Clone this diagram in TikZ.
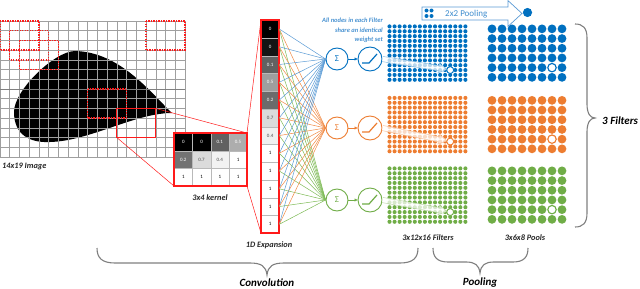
\documentclass[tikz,border=0pt]{standalone}
\usepackage{fontspec}
\setmainfont{Carlito}
\usetikzlibrary{calc,arrows.meta}
\definecolor{cB}{HTML}{0070C0}
\definecolor{cO}{HTML}{ED7D31}
\definecolor{cG}{HTML}{70AD47}
\definecolor{lB}{HTML}{5B9BD5}
\definecolor{lO}{HTML}{F08A45}
\definecolor{lG}{HTML}{7DBA55}
\definecolor{brc}{HTML}{7F7F7F}
\definecolor{winred}{HTML}{FF1A1A}
\newcommand\pointerarrow[3]{%
  \path let \p0=(#1) in coordinate (pa) at (\p0);
  \coordinate (pb) at ($(#2)!3.6pt!(#1)$);
  \coordinate (pm) at ($(pb)!8pt!(pa)$);
  \fill[white,opacity=0.72] ($(pa)!2.6pt!90:(pb)$) -- ($(pm)!2.6pt!-90:(pa)$) -- ($(pm)!4.8pt!-90:(pa)$) -- (pb) -- ($(pm)!4.8pt!90:(pa)$) -- ($(pm)!2.6pt!90:(pa)$) -- ($(pa)!2.6pt!-90:(pb)$) -- cycle;
  \draw[#3!45,line width=0.5] ($(pa)!2.6pt!90:(pb)$) -- ($(pm)!2.6pt!-90:(pa)$) -- ($(pm)!4.8pt!-90:(pa)$) -- (pb) -- ($(pm)!4.8pt!90:(pa)$) -- ($(pm)!2.6pt!90:(pa)$) -- ($(pa)!2.6pt!-90:(pb)$);
}
\begin{document}
\begin{tikzpicture}[x=1pt,y=-1pt,
  gridline/.style={draw=gray!75,line width=0.5},
  dotwin/.style={draw=winred,line width=1.3,dash pattern=on 1.4pt off 1.1pt},
  solidwin/.style={draw=winred,line width=1.3},
  kcell/.style={draw=gray!55,line width=0.3,minimum width=18.25pt,minimum height=17.67pt,inner sep=0pt,anchor=north west,font=\fontsize{5}{5}\selectfont},
  ecell/.style={draw=gray!55,line width=0.3,minimum width=18pt,minimum height=17.75pt,inner sep=0pt,anchor=north west,font=\fontsize{5}{5}\selectfont},
  sumnode/.style={circle,draw=#1,text=#1,fill=white,line width=0.9,minimum size=22pt,inner sep=0pt,font=\fontsize{9}{9}\selectfont},
  relunode/.style={circle,draw=#1,fill=white,line width=0.9,minimum size=24pt,inner sep=0pt},
  openf/.style={circle,draw=#1,fill=white,line width=0.8,minimum size=6.8pt,inner sep=0pt},
  openp/.style={circle,draw=#1,fill=white,line width=1.1,minimum size=8.4pt,inner sep=0pt},
  lab/.style={font=\fontsize{8.3}{9}\selectfont\bfseries\itshape,inner sep=0pt,text=black!85},
  biglab/.style={font=\fontsize{11}{12}\selectfont\bfseries\itshape,inner sep=0pt},
  note/.style={font=\fontsize{6.5}{7}\selectfont\bfseries\itshape,inner sep=0pt,text=lB!80!cB,anchor=base east},
  brace/.style={draw=brc,line width=1.1},
]
\useasboundingbox (0,0) rectangle (640,289);

% ---------- image with blob and grid
\fill[black] (172,113) .. controls (150,92) and (120,52) .. (75,51)
  .. controls (55,51) and (14,90) .. (14,112)
  .. controls (14,135) and (30,143) .. (50,142)
  .. controls (90,141) and (135,113) .. (172,113) -- cycle;
\foreach \i in {0,...,19} \draw[gridline] ({\i*9.737},21) -- ({\i*9.737},157);
\foreach \j in {0,...,14} \draw[gridline] (0,{21+\j*9.714}) -- (185,{21+\j*9.714});
\draw[draw=gray,line width=0.8] (0,{21+7*9.714}) -- (185,{21+7*9.714});
\foreach \c/\r in {0/0,1/1,2/2,15/0,9/7}
  \draw[dotwin] ({\c*9.737},{21+\r*9.714}) rectangle ++(38.95,29.14);
\coordinate (wtl) at (116.84,108.43);
\coordinate (wbr) at (155.79,137.57);
\coordinate (wtr) at (155.79,108.43);
\coordinate (wbl) at (116.84,137.57);
\draw[solidwin] (wtl) rectangle (wbr);
\node[lab,anchor=base west] (imglab) at (2,168) {14x19 Image};

% ---------- kernel
\foreach \v/\f/\t [count=\k from 0] in {0/black/white,0/black/white,0.1/black!62/white,0.5/black!32/white,
  0.2/black!55/white,0.7/black!14/black!70,0.4/black!5/black!70,1/white/black,
  1/white/black,1/white/black,1/white/black,1/white/black}{
  \pgfmathtruncatemacro\col{mod(\k,4)}
  \pgfmathtruncatemacro\row{int(\k/4)}
  \node[kcell,fill=\f,text=\t] (k\k) at ({174+\col*18.25},{133+\row*17.67}) {\v};
}
\coordinate (ktl) at (174,133);
\coordinate (ktr) at (247,133);
\coordinate (kbr) at (247,186);
\coordinate (kbl) at (174,186);
\draw[solidwin] (ktl) rectangle (kbr);
\draw[winred,line width=0.5] (wtr) -- (ktr);
\draw[winred,line width=0.5] (wbl) -- (kbl);
\node[lab,anchor=base] (klab) at (210,200) {3x4 kernel};

% ---------- 1D expansion
\foreach \v/\f/\t [count=\k from 0] in {0/black/white,0/black!92/white,0.1/black!62/white,0.5/black!38/white,
  0.2/black!58/white,0.7/black!14/black!70,0.4/black!6/black!70,1/white/black,
  1/white/black,1/white/black,1/white/black,1/white/black}{
  \node[ecell,fill=\f,text=\t] (e\k) at (261,{20+\k*17.75}) {\v};
}
\coordinate (etl) at (261,20);
\coordinate (ebr) at (279,233);
\coordinate (ebl) at (261,233);
\draw[solidwin] (etl) rectangle (ebr);
\draw[winred,line width=0.5] (ktr) -- (etl);
\draw[winred,line width=0.5] (kbr) -- (ebl);
\node[lab,anchor=base] (elab) at (269,247) {1D Expansion};

% ---------- sum and relu nodes
\node[sumnode=cB] (sB) at (337,59) {Σ};
\node[sumnode=cO] (sO) at (337,128) {Σ};
\node[sumnode=cG] (sG) at (337,200) {Σ};
\foreach \k in {0,...,11}{
  \draw[lB,line width=0.5] (e\k.east) -- (sB.west);
  \draw[lO,line width=0.5] (e\k.east) -- (sO.west);
  \draw[lG,line width=0.5] (e\k.east) -- (sG.west);
}
\node[relunode=cB] (rB) at (370,59) {};
\node[relunode=cO] (rO) at (370,128) {};
\node[relunode=cG] (rG) at (370,200) {};
\foreach \r/\c/\s in {rB/cB/sB,rO/cO/sO,rG/cG/sG}{
  \draw[\c,line width=1.2] ($(\r)+(-8,4)$) -- ++(7,0) -- ++(8,-9);
  \draw[\c,line width=0.6,-{Triangle[length=3pt,width=3pt]}] (\s) -- (\r);
}

% ---------- filters and pools
\foreach \c/\y in {cB/24,cO/95.5,cG/166}{
  \foreach \i in {0,...,15}{
    \foreach \j in {0,...,11}{
      \fill[\c] ({389.5+\i*5.06},{\y+2.42+\j*4.85}) circle (2.05pt);
    }
  }
  \foreach \i in {0,...,7}{
    \foreach \j in {0,...,5}{
      \fill[\c] ({492+\i*10},{\y+4.85+\j*9.7}) circle (4.4pt);
    }
  }
}
\pgfmathsetmacro\fx{389.5+12*5.06}
\node[openf=cB] (fB) at (\fx,{24+2.42+9*4.85}) {};
\node[openf=cO] (fO) at (\fx,{95.5+2.42+9*4.85}) {};
\node[openf=cG] (fG) at (\fx,{166+2.42+9*4.85}) {};
\node[openp=cB] (pB) at (552,{24+4.85+4*9.7}) {};
\node[openp=cO] (pO) at (552,{95.5+4.85+4*9.7}) {};
\node[openp=cG] (pG) at (552,{166+4.85+4*9.7}) {};
\pointerarrow{rB.east}{fB}{cB}
\pointerarrow{rO.east}{fO}{cO}
\pointerarrow{rG.east}{fG}{cG}
\node[openf=cB] at (fB) {};
\node[openf=cO] at (fO) {};
\node[openf=cG] at (fG) {};

% ---------- note
\node[note] (n1) at (383,23) {All nodes in each Filter};
\node[note] (n2) at (383,32) {share an identical};
\node[note] (n3) at (383,41.5) {weight set};

% ---------- pooling arrow
\draw[lB,fill=white,line width=0.7] (422,7) -- (508,7) -- (508,0.6) -- (522,13.5) -- (508,26.4) -- (508,20) -- (422,20) -- cycle;
\foreach \dx/\dy in {0/0,5/0,0/5.5,5/5.5} \fill[cB] ({426.5+\dx},{10.5+\dy}) circle (2pt);
\node[font=\fontsize{9}{9}\selectfont,text=lB!70!cB,inner sep=0pt,anchor=base west] (plab) at (445,16.5) {2x2 Pooling};
\fill[cB] (527.5,12.5) circle (4.6pt);

% ---------- labels under grids
\node[lab,anchor=base] (flab) at (428,240) {3x12x16 Filters};
\node[lab,anchor=base] (plab2) at (525,240) {3x6x8 Pools};

% ---------- braces
\draw[brace] (97,248) .. controls (97,258) and (102,263) .. (115,263) -- (250,263)
  .. controls (261,263) and (266,266) .. (267,275) .. controls (268,266) and (273,263) .. (284,263)
  -- (400,263) .. controls (413,263) and (418,258) .. (418,248);
\node[biglab,anchor=base] (conv) at (267,286) {Convolution};
\draw[brace] (433,248) .. controls (433,257) and (437,262) .. (448,262) -- (466,262)
  .. controls (475,262) and (479,265) .. (480,273) .. controls (481,265) and (485,262) .. (494,262)
  -- (513,262) .. controls (524,262) and (528,257) .. (528,248);
\node[biglab,anchor=base] (pool) at (480,285.5) {Pooling};
\draw[brace] (575,24) .. controls (583,24) and (587,28) .. (587,38) -- (587,104)
  .. controls (587,113) and (590,118) .. (595,118) .. controls (590,118) and (587,123) .. (587,132)
  -- (587,213) .. controls (587,223) and (583,227) .. (575,227);
\node[biglab,anchor=base west] (filt) at (602,124) {3 Filters};
\end{tikzpicture}
\end{document}
